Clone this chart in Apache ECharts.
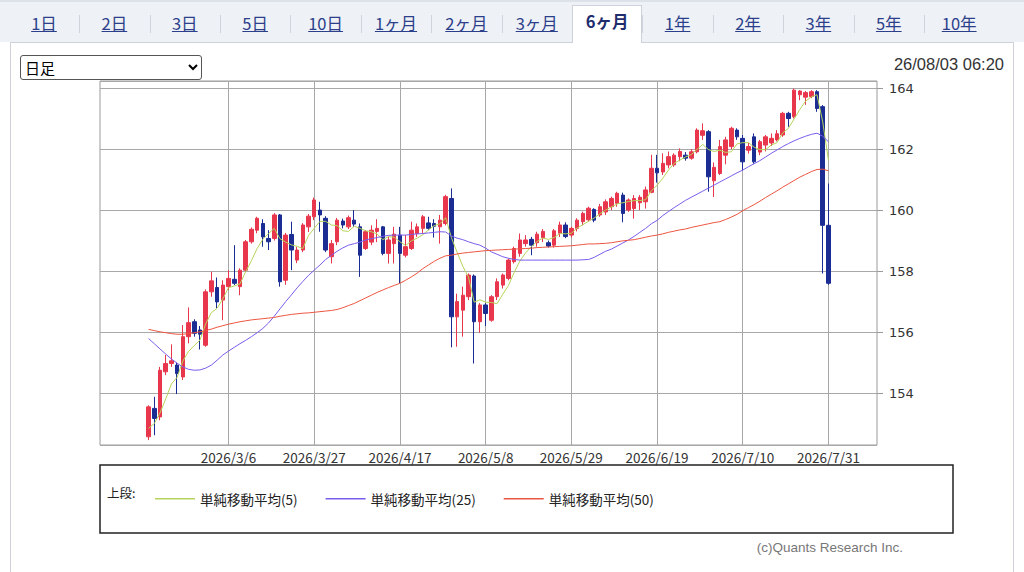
<!DOCTYPE html>
<html>
<head>
<meta charset="utf-8">
<script src="https://cdn.jsdelivr.net/npm/echarts@6.0.0/dist/echarts.min.js"></script>
<style>
  html, body { margin: 0; padding: 0; background: #fff; }
  body { width: 1024px; height: 572px; position: relative; overflow: hidden;
         font-family: "Noto Sans CJK JP", "Noto Sans", sans-serif; }
  #tabbar { position: absolute; left: 0; top: 0; width: 1024px; height: 42px; background: #eef1f6;
            border-top: 2px solid #dde1e8; box-sizing: border-box; }
  .tab { position: absolute; top: 10px; width: 70px; text-align: center; font-size: 16.5px;
         color: #2c3f8a; text-decoration: underline; line-height: 22px; }
  .sep { position: absolute; top: 13px; width: 1px; height: 18px; background: #cfd4dc; }
  #seltab { position: absolute; left: 573px; top: 5px; width: 70px; height: 38px; background: #fff;
            border: 1px solid #cdd2da; border-bottom: none; box-sizing: border-box; z-index: 3; }
  #seltab span { display: block; text-align: center; font-size: 16.5px; font-weight: bold; color: #1f2d6e;
                 line-height: 22px; margin-top: 4px; }
  #panel { position: absolute; left: 10px; top: 42px; width: 1004px; height: 540px; border: 1px solid #cdd2da;
           box-sizing: border-box; background: #fff; }
  #chart { position: absolute; left: 0; top: 0; width: 1024px; height: 572px; z-index: 1; }
  #sel { position: absolute; left: 20px; top: 55px; width: 182px; height: 25px; font-size: 15px; z-index: 2;
         font-family: "Noto Sans CJK JP", sans-serif; border: 1px solid #555; border-radius: 3px; background: #fff; }
  #stamp { position: absolute; right: 20px; top: 55px; font-size: 16.5px; color: #333; z-index: 2;
           font-family: "Liberation Sans", Arial, sans-serif; }
</style>
</head>
<body>
<div id="tabbar"></div>
<div id="panel"></div>
<div id="chart"></div>
<select id="sel"><option>日足</option><option>週足</option><option>月足</option></select>
<div id="stamp">26/08/03 06:20</div>
<script>
// ---------- tabs ----------
const tabLabels = ['1日','2日','3日','5日','10日','1ヶ月','2ヶ月','3ヶ月','6ヶ月','1年','2年','3年','5年','10年'];
const selectedTab = '6ヶ月';
(function buildTabs(){
  const bar = document.getElementById('tabbar');
  tabLabels.forEach((t, k) => {
    const cx = 44 + k * 70.4;
    if (t === selectedTab) {
      const d = document.createElement('div');
      d.id = 'seltab';
      d.style.left = (cx - 35) + 'px';
      d.innerHTML = '<span>' + t + '</span>';
      document.body.appendChild(d);
    } else {
      const a = document.createElement('div');
      a.className = 'tab';
      a.style.left = (cx - 35) + 'px';
      a.textContent = t;
      bar.appendChild(a);
    }
    if (k > 0) {
      const s = document.createElement('div');
      s.className = 'sep';
      s.style.left = Math.round(cx - 35.2) + 'px';
      bar.appendChild(s);
    }
  });
})();

// ---------- data ----------
const padBefore = ['2026/2/4','2026/2/5','2026/2/6','2026/2/9','2026/2/10','2026/2/11','2026/2/12','2026/2/13'];
const padAfter  = ['2026/8/3','2026/8/4','2026/8/5','2026/8/6','2026/8/7','2026/8/10','2026/8/11','2026/8/12'];
const tradeDays = {
  2: [16,17,18,19,20,23,24,25,26,27],
  3: [2,3,4,5,6,9,10,11,12,13,16,17,18,19,20,23,24,25,26,27,30,31],
  4: [1,2,3,6,7,8,9,10,13,14,15,16,17,20,21,22,23,24,27,28,29,30],
  5: [1,4,5,6,7,8,11,12,13,14,15,18,19,20,21,22,25,26,27,28,29],
  6: [1,2,3,4,5,8,9,10,11,12,15,16,17,18,19,22,23,24,25,26,29,30],
  7: [1,2,3,6,7,8,9,10,13,14,15,16,17,20,21,22,23,24,27,28,29,30,31]
};
const labelDates = ['2026/3/6','2026/3/27','2026/4/17','2026/5/8','2026/5/29','2026/6/19','2026/7/10','2026/7/31'];

const opens = [
152.57,153.50,153.22,154.70,154.97,154.92,154.53,155.85,156.34,156.07,
155.57,157.32,157.46,157.05,157.49,157.73,157.49,158.03,158.96,159.34,
159.56,159.07,159.07,159.84,157.70,159.20,158.36,158.69,159.45,159.78,
160.00,159.73,158.47,158.96,159.64,159.45,159.67,159.45,158.74,158.95,
159.30,159.45,158.58,158.90,159.18,158.52,158.74,159.23,159.40,159.58,
159.56,159.45,159.56,160.38,156.50,156.72,157.16,157.84,156.34,156.89,
156.39,157.16,157.54,157.76,158.31,158.58,158.90,159.04,158.93,159.10,
158.93,158.85,159.24,159.51,159.18,159.40,159.62,159.68,160.02,159.84,
159.94,160.11,160.22,160.49,160.00,160.05,160.24,160.27,160.58,161.37,
161.25,161.48,161.48,161.75,161.80,161.70,161.91,162.45,162.57,160.96,
161.20,161.80,162.08,162.62,162.35,161.96,162.40,161.90,162.13,162.20,
162.30,162.46,163.17,163.06,163.78,163.70,163.72,163.88,163.39,159.50];
const closes = [
153.55,153.17,154.75,154.97,155.06,154.64,155.85,156.31,155.96,155.93,
157.32,157.68,156.99,157.54,157.76,157.60,158.03,158.96,159.37,159.73,
159.12,158.96,159.84,157.65,159.18,158.69,158.69,159.51,159.80,160.33,
159.84,158.69,158.90,159.67,159.51,159.75,159.54,158.52,159.29,159.34,
159.40,158.58,159.02,159.21,158.58,158.80,159.34,159.45,159.78,159.40,
159.47,159.67,160.44,156.50,157.00,157.21,157.87,156.34,156.89,156.61,
157.16,157.65,157.87,158.36,158.74,159.02,159.02,158.85,159.21,159.30,
158.82,159.32,159.51,159.13,159.40,159.67,159.89,160.06,159.67,160.11,
160.27,160.38,160.55,159.89,160.33,160.38,160.42,160.66,161.37,161.22,
161.53,161.75,161.80,161.92,161.70,161.91,162.62,162.60,161.09,161.40,
162.08,162.30,162.68,162.40,161.58,162.08,161.58,162.24,162.40,162.35,
162.50,163.17,163.00,163.93,163.90,163.85,163.88,163.33,159.50,157.60];
const highs = [
153.60,153.88,154.86,155.25,155.60,155.00,156.23,156.81,156.42,156.20,
157.40,157.98,157.79,157.70,158.03,158.85,158.09,159.02,159.43,159.78,
159.70,159.34,159.90,159.87,159.25,159.62,158.79,159.57,159.87,160.41,
160.27,159.80,159.02,159.74,159.72,159.82,160.00,159.56,159.34,159.50,
159.70,159.48,159.13,159.45,159.45,159.18,159.62,159.56,159.84,159.78,
159.70,159.84,160.50,160.71,157.26,157.49,157.92,157.89,156.95,156.95,
157.21,157.76,157.92,158.41,158.80,159.23,159.18,159.12,159.29,159.38,
159.00,159.38,159.62,159.60,159.45,159.73,159.95,160.11,160.06,160.20,
160.35,160.44,160.60,160.57,160.38,160.49,160.49,160.77,161.81,161.81,
161.86,161.92,161.86,162.02,161.90,162.00,162.68,162.84,162.62,161.56,
162.30,162.40,162.73,162.68,162.46,162.20,162.51,162.30,162.46,162.51,
162.62,163.22,163.22,163.98,163.93,163.90,163.93,163.93,163.44,160.87];
const lows = [
152.46,152.62,153.11,154.59,154.86,153.97,154.43,155.63,155.85,155.43,
155.52,157.16,156.78,156.39,157.38,157.54,157.21,157.98,158.90,159.24,
158.80,158.69,159.00,157.49,157.55,158.03,158.26,158.62,159.28,159.67,
159.29,158.62,158.25,158.85,159.40,159.38,159.45,157.81,158.69,158.85,
158.95,158.52,158.25,158.25,157.60,158.45,158.69,159.12,159.23,159.34,
159.10,158.90,159.50,155.50,155.52,155.85,157.05,154.97,155.98,156.20,
156.34,157.05,157.43,157.70,158.25,158.47,158.80,158.52,158.80,158.95,
158.77,158.77,159.12,159.08,159.10,159.30,159.50,159.62,159.60,159.78,
159.84,160.00,160.11,159.60,159.94,159.72,160.00,160.05,160.55,160.90,
161.15,161.37,161.42,161.60,161.62,161.65,161.86,162.30,160.60,160.43,
161.15,161.50,162.00,162.30,161.30,161.85,161.52,161.80,161.92,162.10,
162.25,162.40,162.73,163.00,163.60,163.45,163.67,163.22,157.92,157.55];
const ma5 = [
152.85,153.00,153.35,153.81,154.30,154.52,155.05,155.37,155.56,155.74,
156.27,156.64,156.78,157.09,157.46,157.51,157.58,157.98,158.34,158.74,
159.04,159.23,159.40,159.06,158.95,158.86,158.81,158.74,159.17,159.40,
159.63,159.63,159.51,159.49,159.32,159.30,159.47,159.40,159.32,159.29,
159.22,159.03,159.13,159.11,158.96,158.84,158.99,159.08,159.19,159.35,
159.49,159.55,159.75,159.10,158.62,158.16,157.80,156.98,157.06,156.98,
156.97,156.93,157.24,157.53,157.96,158.33,158.60,158.80,158.97,159.08,
159.04,159.10,159.23,159.22,159.24,159.41,159.52,159.63,159.74,159.88,
160.00,160.10,160.20,160.24,160.28,160.31,160.31,160.34,160.63,160.81,
161.04,161.31,161.53,161.64,161.74,161.82,161.99,162.15,161.98,161.92,
161.96,161.89,161.91,162.17,162.21,162.21,162.06,161.98,161.98,162.13,
162.21,162.53,162.68,162.99,163.30,163.57,163.71,163.78,162.89,161.63];
const ma25 = [
155.79,155.62,155.45,155.28,155.12,154.98,154.86,154.78,154.75,154.76,
154.82,154.92,155.08,155.25,155.38,155.50,155.62,155.73,155.85,155.98,
156.12,156.30,156.52,156.76,157.00,157.22,157.45,157.66,157.86,158.03,
158.20,158.38,158.52,158.65,158.76,158.85,158.90,158.95,159.02,159.06,
159.10,159.14,159.17,159.18,159.18,159.18,159.20,159.22,159.23,159.25,
159.27,159.29,159.28,159.15,159.08,159.03,158.96,158.90,158.85,158.75,
158.63,158.55,158.47,158.42,158.38,158.36,158.36,158.36,158.36,158.36,
158.36,158.36,158.36,158.36,158.36,158.36,158.37,158.38,158.45,158.55,
158.65,158.72,158.82,158.92,159.02,159.14,159.27,159.40,159.55,159.66,
159.82,159.95,160.08,160.20,160.32,160.42,160.52,160.62,160.72,160.82,
160.92,161.02,161.12,161.22,161.31,161.42,161.52,161.62,161.74,161.86,
161.97,162.08,162.18,162.27,162.35,162.42,162.48,162.52,162.42,162.24];
const ma50 = [
156.09,156.05,156.01,155.98,155.95,155.93,155.93,155.95,155.98,156.01,
156.05,156.10,156.16,156.21,156.26,156.30,156.34,156.37,156.40,156.42,
156.44,156.46,156.48,156.52,156.55,156.58,156.60,156.62,156.63,156.65,
156.67,156.69,156.71,156.74,156.80,156.87,156.94,157.03,157.12,157.21,
157.30,157.38,157.46,157.53,157.60,157.70,157.81,157.93,158.08,158.20,
158.32,158.42,158.50,158.52,158.56,158.59,158.61,158.63,158.65,158.67,
158.68,158.69,158.70,158.71,158.72,158.73,158.74,158.75,158.77,158.78,
158.79,158.80,158.81,158.82,158.83,158.85,158.87,158.89,158.89,158.90,
158.91,158.93,158.96,158.99,159.01,159.03,159.07,159.11,159.15,159.18,
159.22,159.27,159.31,159.35,159.38,159.43,159.47,159.51,159.55,159.59,
159.62,159.69,159.77,159.86,159.98,160.08,160.18,160.29,160.41,160.52,
160.63,160.75,160.86,160.97,161.08,161.17,161.26,161.33,161.34,161.29];

const seriesNames = ['単純移動平均(5)', '単純移動平均(25)', '単純移動平均(50)'];

// ---------- build ----------
const dates = [];
Object.keys(tradeDays).forEach(m => tradeDays[m].forEach(d => dates.push('2026/' + m + '/' + d)));
const categories = padBefore.concat(dates, padAfter);

const candleData = dates.map((d, i) => [d, opens[i], closes[i], lows[i], highs[i]]);
const lineData = arr => dates.map((d, i) => [d, arr[i]]);

const FONT = '"Noto Sans CJK JP", "Noto Sans", sans-serif';
const UP = '#e8374d', DOWN = '#1b2c93';
const C5 = '#b6d45a', C25 = '#7a5cec', C50 = '#ec5540';

const chart = echarts.init(document.getElementById('chart'), null, { renderer: 'svg' });
chart.setOption({
  animation: false,
  backgroundColor: 'transparent',
  textStyle: { fontFamily: FONT },
  grid: { left: 100, top: 81, width: 777, height: 364, show: true, borderColor: '#9a9a9a', borderWidth: 1,
          backgroundColor: '#fff' },
  xAxis: {
    type: 'category', data: categories, boundaryGap: true,
    axisLine: { show: false }, axisTick: { show: false },
    splitLine: { show: false },
    axisLabel: {
      interval: (idx, val) => labelDates.indexOf(val) >= 0,
      color: '#333', fontSize: 13.5, margin: 5, fontFamily: FONT
    }
  },
  yAxis: {
    type: 'value', position: 'right', min: 152.3, max: 164.23, scale: true,
    axisLine: { show: false },
    axisTick: { show: true, length: 6, lineStyle: { color: '#9a9a9a' } },
    axisLabel: { color: '#333', fontSize: 13, margin: 12, showMinLabel: false, showMaxLabel: false,
                 fontFamily: '"DejaVu Sans", sans-serif' },
    splitLine: { show: true, lineStyle: { color: '#a8a8a8', width: 1 } }
  },
  legend: {
    left: 150, top: 487, icon: 'rect', itemWidth: 40, itemHeight: 1.5, itemGap: 28,
    data: seriesNames,
    textStyle: { fontSize: 13.5, color: '#222', fontFamily: FONT }
  },
  graphic: [
    { type: 'rect', z: -10, shape: { x: 100, y: 465, width: 853, height: 68 },
      style: { fill: '#fff', stroke: '#222', lineWidth: 1.5 } },
    { type: 'text', left: 107, top: 486, style: { text: '上段:', fontSize: 12.5, fill: '#222', fontFamily: FONT } },
    { type: 'text', right: 121, top: 540, style: { text: '(c)Quants Research Inc.', fontSize: 13.5, fill: '#777',
      fontFamily: '"Liberation Sans Narrow", "Liberation Sans", sans-serif' } }
  ],
  series: [
    {
      type: 'candlestick', name: 'price', data: candleData, z: 3,
      encode: { x: 0, y: [1, 2, 3, 4] },
      barWidth: 4,
      itemStyle: { color: UP, color0: DOWN, borderColor: UP, borderColor0: DOWN, borderWidth: 1 },
      markLine: {
        silent: true, symbol: 'none', z: 1, animation: false,
        label: { show: false },
        lineStyle: { color: '#a8a8a8', type: 'solid', width: 1 },
        data: labelDates.map(d => ({ xAxis: d }))
      }
    },
    { type: 'line', name: seriesNames[0], data: lineData(ma5), showSymbol: false, symbol: 'none', z: 4,
      lineStyle: { color: C5, width: 1 }, itemStyle: { color: C5 } },
    { type: 'line', name: seriesNames[1], data: lineData(ma25), showSymbol: false, symbol: 'none', z: 4,
      lineStyle: { color: C25, width: 1 }, itemStyle: { color: C25 } },
    { type: 'line', name: seriesNames[2], data: lineData(ma50), showSymbol: false, symbol: 'none', z: 4,
      lineStyle: { color: C50, width: 1 }, itemStyle: { color: C50 } }
  ]
});
</script>
</body>
</html>
